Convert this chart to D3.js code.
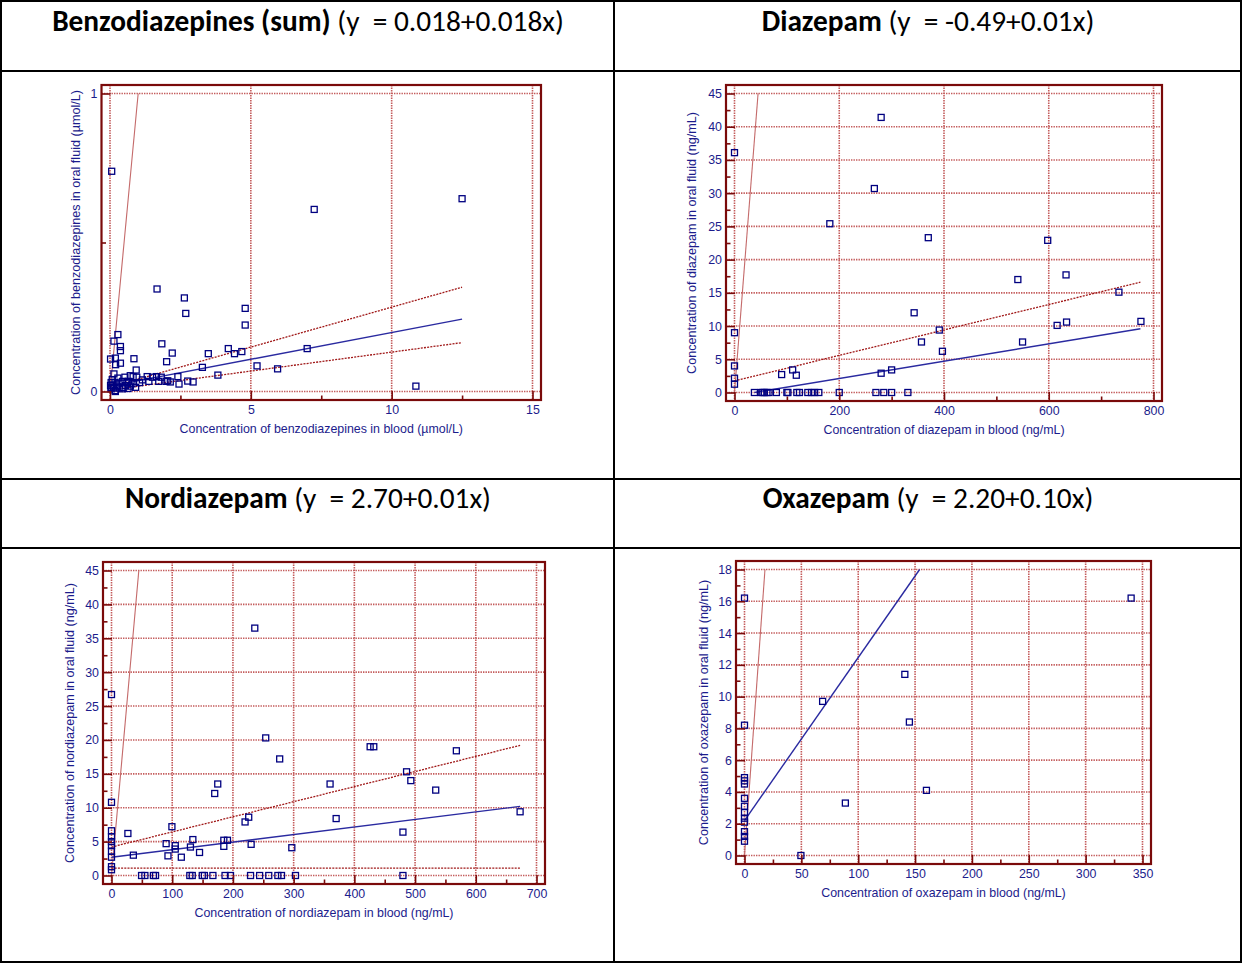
<!DOCTYPE html>
<html>
<head>
<meta charset="utf-8">
<script src="https://cdn.jsdelivr.net/npm/d3@7"></script>
<style>
html,body{margin:0;padding:0;background:#fff;}
svg{display:block;}
</style>
</head>
<body>
<svg id="chart" width="1243" height="963"></svg>
<script>
// ---------------- DATA ----------------
const panelTitles = ["Benzodiazepines (sum)", "Diazepam", "Nordiazepam", "Oxazepam"];
const panelEquations = [" (y  = 0.018+0.018x)", " (y  = -0.49+0.01x)", " (y  = 2.70+0.01x)", " (y  = 2.20+0.10x)"];
const xTitles = [
  "Concentration of benzodiazepines in blood (µmol/L)",
  "Concentration of diazepam in blood (ng/mL)",
  "Concentration of nordiazepam in blood (ng/mL)",
  "Concentration of oxazepam in blood (ng/mL)"
];
const yTitles = [
  "Concentration of benzodiazepines in oral fluid (µmol/L)",
  "Concentration of diazepam in oral fluid (ng/mL)",
  "Concentration of nordiazepam in oral fluid (ng/mL)",
  "Concentration of oxazepam in oral fluid (ng/mL)"
];

const benzoXTicks = [0, 5, 10, 15];
const benzoXMinor = [2.5, 7.5, 12.5];
const benzoYTicks = [0, 1];
const benzoYMinor = [0.5];
const diazXTicks = [0, 200, 400, 600, 800];
const diazXMinor = [100, 300, 500, 700];
const diazYTicks = [0, 5, 10, 15, 20, 25, 30, 35, 40, 45];
const diazYMinor = [2.5, 7.5, 12.5, 17.5, 22.5, 27.5, 32.5, 37.5, 42.5];
const nordXTicks = [0, 100, 200, 300, 400, 500, 600, 700];
const nordXMinor = [50, 150, 250, 350, 450, 550, 650];
const nordYTicks = [0, 5, 10, 15, 20, 25, 30, 35, 40, 45];
const nordYMinor = [2.5, 7.5, 12.5, 17.5, 22.5, 27.5, 32.5, 37.5, 42.5];
const oxaXTicks = [0, 50, 100, 150, 200, 250, 300, 350];
const oxaXMinor = [25, 75, 125, 175, 225, 275, 325];
const oxaYTicks = [0, 2, 4, 6, 8, 10, 12, 14, 16, 18];
const oxaYMinor = [1, 3, 5, 7, 9, 11, 13, 15, 17];

// [blood, oral fluid]
const benzoPoints = [
  [0.06,0.739],[12.5,0.647],[7.25,0.611],[1.67,0.344],[2.64,0.314],[2.69,0.262],[4.80,0.279],[4.80,0.223],
  [0.28,0.191],[0.14,0.169],[0.37,0.151],[0.37,0.137],[1.84,0.160],[2.21,0.129],[2.01,0.100],[0.85,0.110],
  [0.02,0.109],[0.19,0.112],[0.20,0.090],[0.37,0.095],[0.93,0.072],[0.14,0.059],[3.49,0.127],[4.20,0.144],
  [4.42,0.127],[4.68,0.134],[7.00,0.144],[3.28,0.081],[3.83,0.055],[5.22,0.086],[5.95,0.076],[10.86,0.018],
  [2.41,0.050],[2.45,0.025],[2.76,0.035],[2.95,0.032],[2.14,0.032],[1.99,0.034],[2.05,0.036],[1.73,0.034],
  [1.51,0.048],[1.32,0.050],[1.38,0.034],[1.15,0.039],[0.95,0.048],[0.82,0.050],[0.78,0.026],[0.91,0.014],
  [0.64,0.010],[0.53,0.048],[0.65,0.034],[0.45,0.034],[0.32,0.028],[0.47,0.014],[0.18,0.031],[0.04,0.030],
  [0.04,0.014],[0.04,0.009],[0.12,0.012],[0.18,0.003],[0.19,0.000],[0.32,0.012],[0.44,0.009],[0.72,0.053],
  [1.65,0.050],[1.82,0.048],[0.02,0.020],[0.10,0.022],[0.25,0.018],[0.55,0.020],[0.08,0.040],[0.28,0.045],
  [0.60,0.030],[1.05,0.030],[0.72,0.018]
];
const diazPoints = [
  [0,36.1],[280,41.4],[267,30.7],[182,25.4],[370,23.3],[598,22.9],[633,17.7],[541,17.0],[734,15.1],
  [343,12.0],[0,9.0],[391,9.4],[616,10.1],[634,10.6],[776,10.7],[357,7.6],[550,7.6],[397,6.2],
  [0,4.0],[0,2.15],[0,1.25],[90,2.7],[111,3.4],[118,2.6],[280,2.9],[300,3.4],
  [38,0],[51,0],[54,0],[57,0],[62,0],[66,0],[80,0],[100,0],[102,0],[119,0],[124,0],[140,0],
  [147,0],[153,0],[161,0],[200,0],[270,0],[285,0],[300,0],[331,0]
];
const nordPoints = [
  [236,36.5],[0,26.7],[254,20.3],[277,17.2],[426,19.0],[432,19.0],[568,18.4],[486,15.3],[493,14.0],
  [360,13.5],[175,13.5],[170,12.1],[534,12.6],[0,10.8],[673,9.4],[370,8.4],[226,8.6],[220,7.9],
  [99.5,7.2],[480,6.4],[27,6.2],[0,6.6],[0,5.7],[0,5.0],[0,4.4],[0,3.6],[0,2.7],[0,1.3],[0,0.85],
  [134,5.3],[90,4.7],[105,4.4],[105,3.9],[130,4.2],[185,5.2],[191,5.2],[185,4.3],[230,4.6],[297,4.1],
  [36,3.0],[93,2.9],[115,2.7],[145,3.4],
  [49.5,0],[55,0],[69,0],[72.5,0],[129,0],[133,0],[149.5,0],[153,0],[167,0],[187,0],[196,0],
  [229,0],[244,0],[259,0],[274,0],[280,0],[303,0],[480,0]
];
const oxaPoints = [
  [0,16.2],[340,16.2],[141,11.4],[68.7,9.7],[145,8.4],[0,8.2],[160,4.1],[88.7,3.3],[49.6,0],
  [0,4.9],[0,4.7],[0,4.5],[0,3.6],[0,3.1],[0,2.7],[0,2.35],[0,2.1],[0,1.5],[0,1.2],[0,0.9]
];

// fitted lines, as [[x0,y0],[x1,y1]]
const benzoRegression = [[0,0.018],[12.5,0.243]];
const benzoUpper = [[0,0.015],[12.5,0.350]];
const benzoLower = [[0,0.005],[12.5,0.164]];
const benzoIdentity = [[0,0],[1,1]];
const diazRegression = [[38,0],[775,9.6]];
const diazUpper = [[0,1.75],[775,16.6]];
const diazIdentity = [[0,0],[45,45]];
const nordRegression = [[0,2.7],[673,10.2]];
const nordUpper = [[0,4.2],[673,19.2]];
const nordLower = [[0,1.08],[673,1.08]];
const nordIdentity = [[0,0],[45,45]];
const oxaRegression = [[0,2.2],[154,18]];
const oxaIdentity = [[0,0],[18,18]];

// ---------------- LAYOUT ----------------
const svg = d3.select("#chart");
const NAVY = "#1c1c8c";
const FRAME = "#7a0a0a";
const GRID = "#c45c5c";

const panels = [
  {i:0, frame:[101.5,85,541,400], xDom:[0,15], yDom:[0,1], xT:benzoXTicks, xM:benzoXMinor, yT:benzoYTicks, yM:benzoYMinor,
   pts:benzoPoints, reg:benzoRegression, ci:[benzoUpper, benzoLower], id:benzoIdentity, cx:308, ty:31, yTitleX:76},
  {i:1, frame:[726,85,1162,401], xDom:[0,800], yDom:[0,45], xT:diazXTicks, xM:diazXMinor, yT:diazYTicks, yM:diazYMinor,
   pts:diazPoints, reg:diazRegression, ci:[diazUpper], id:diazIdentity, cx:928, ty:31, yTitleX:692},
  {i:2, frame:[103,562,545,884], xDom:[0,700], yDom:[0,45], xT:nordXTicks, xM:nordXMinor, yT:nordYTicks, yM:nordYMinor,
   pts:nordPoints, reg:nordRegression, ci:[nordUpper, nordLower], id:nordIdentity, cx:308, ty:508, yTitleX:70},
  {i:3, frame:[736,561,1151,864], xDom:[0,350], yDom:[0,18], xT:oxaXTicks, xM:oxaXMinor, yT:oxaYTicks, yM:oxaYMinor,
   pts:oxaPoints, reg:oxaRegression, ci:[], id:oxaIdentity, cx:928, ty:508, yTitleX:704}
];

// table borders
const tb = svg.append("g").attr("stroke","#000").attr("stroke-width",2);
[[1,1,1242,1],[1,71,1242,71],[1,479,1242,479],[1,548,1242,548],[1,962,1242,962]].forEach(l=>
  tb.append("line").attr("x1",l[0]).attr("y1",l[1]).attr("x2",l[2]).attr("y2",l[3]));
[[1,0,1,963],[614,0,614,963],[1241,0,1241,963]].forEach(l=>
  tb.append("line").attr("x1",l[0]).attr("y1",l[1]).attr("x2",l[2]).attr("y2",l[3]));

const PAD = 8.5;
const titleFont = "Carlito, Calibri, Lato, 'Open Sans', sans-serif";
const axFont = "'Liberation Sans', Arial, sans-serif";
const AXFS = "12.4px";

const titleNodes = [];
panels.forEach(p => {
  const [fx0, fy0, fx1, fy1] = p.frame;
  const x = d3.scaleLinear().domain(p.xDom).range([fx0+PAD, fx1-PAD]);
  const y = d3.scaleLinear().domain(p.yDom).range([fy1-PAD, fy0+PAD]);
  const g = svg.append("g");

  // title
  const t = svg.append("text").attr("x", p.cx).attr("y", p.ty).attr("text-anchor","middle")
    .style("font-family", titleFont).style("font-size","24px").style("white-space","pre").attr("fill","#000");
  t.append("tspan").attr("font-weight","bold").text(panelTitles[p.i]);
  t.append("tspan").text(panelEquations[p.i]);
  titleNodes.push(t);

  // grid
  const grid = g.append("g").attr("stroke", GRID).attr("stroke-width",1.6).attr("stroke-dasharray","1.4,1.1");
  p.xT.forEach(v => grid.append("line").attr("x1",x(v)).attr("x2",x(v)).attr("y1",fy0).attr("y2",fy1));
  p.yT.forEach(v => grid.append("line").attr("y1",y(v)).attr("y2",y(v)).attr("x1",fx0).attr("x2",fx1));

  // clip
  const cid = "clip"+p.i;
  svg.append("clipPath").attr("id",cid).append("rect").attr("x",fx0).attr("y",fy0).attr("width",fx1-fx0).attr("height",fy1-fy0);
  const plot = g.append("g").attr("clip-path","url(#"+cid+")");
  const line = d3.line().x(d=>x(d[0])).y(d=>y(d[1]));

  plot.append("path").attr("d", line(p.id)).attr("fill","none").attr("stroke","#c46a6a").attr("stroke-width",1.1);
  p.ci.forEach(c => plot.append("path").attr("d", line(c)).attr("fill","none").attr("stroke","#a01818")
    .attr("stroke-width",1.3).attr("stroke-dasharray","2,1.2"));
  plot.append("path").attr("d", line(p.reg)).attr("fill","none").attr("stroke","#2a2aa0").attr("stroke-width",1.4);

  // points
  const S = 6;
  plot.selectAll("rect.pt").data(p.pts).join("rect").attr("class","pt")
    .attr("x", d=>x(d[0])-S/2).attr("y", d=>y(d[1])-S/2).attr("width",S).attr("height",S)
    .attr("fill","none").attr("stroke","#000080").attr("stroke-width",1.3);

  // axes
  const xAx = g.append("g").attr("transform",`translate(0,${fy1})`)
    .call(d3.axisBottom(x).tickValues(p.xT).tickSize(-9).tickPadding(5.5).tickFormat(d3.format("d")));
  const xAxm = g.append("g").attr("transform",`translate(0,${fy1})`)
    .call(d3.axisBottom(x).tickValues(p.xM).tickSize(-4.5).tickFormat(""));
  const yAx = g.append("g").attr("transform",`translate(${fx0},0)`)
    .call(d3.axisLeft(y).tickValues(p.yT).tickSize(-9).tickPadding(4).tickFormat(d3.format("d")));
  const yAxm = g.append("g").attr("transform",`translate(${fx0},0)`)
    .call(d3.axisLeft(y).tickValues(p.yM).tickSize(-4.5).tickFormat(""));
  [xAx,xAxm,yAx,yAxm].forEach(a => {
    a.select(".domain").remove();
    a.selectAll("line").attr("stroke", FRAME).attr("stroke-width",1.6);
    a.selectAll("text").attr("fill", NAVY).style("font-family", axFont).style("font-size",AXFS);
  });

  // frame
  g.append("rect").attr("x",fx0).attr("y",fy0).attr("width",fx1-fx0).attr("height",fy1-fy0)
    .attr("fill","none").attr("stroke",FRAME).attr("stroke-width",2.2);

  // axis titles
  g.append("text").attr("x",(fx0+fx1)/2).attr("y",fy1+33).attr("text-anchor","middle")
    .attr("fill",NAVY).style("font-family",axFont).style("font-size",AXFS).text(xTitles[p.i]);
  g.append("text").attr("transform",`translate(${p.yTitleX},${(fy0+fy1)/2}) rotate(-90)`)
    .attr("text-anchor","middle").attr("dy","0.35em")
    .attr("fill",NAVY).style("font-family",axFont).style("font-size","12.6px").text(yTitles[p.i]);
});

// fit title font size so first title spans ~512px like the reference
const w0 = titleNodes[0].node().getComputedTextLength();
const fs = 24 * 512 / w0;
titleNodes.forEach(t => t.style("font-size", fs.toFixed(2)+"px"));
</script>
</body>
</html>
